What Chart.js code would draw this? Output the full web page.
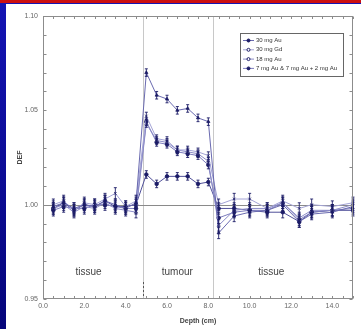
<!DOCTYPE html>
<html>
<head>
<meta charset="utf-8">
<script src="https://cdn.jsdelivr.net/npm/chart.js@4/dist/chart.umd.min.js"></script>
<style>
  html, body { margin: 0; padding: 0; background: #0a0a90; overflow: hidden; }
  canvas { display: block; }
</style>
</head>
<body>
<canvas id="defChart" width="361" height="329"></canvas>
<script>
// depth of each measurement (cm)
var depth = [0.5, 1.0, 1.5, 2.0, 2.5, 3.0, 3.5, 4.0, 4.5,
             5.0, 5.5, 6.0, 6.5, 7.0, 7.5, 8.0,
             8.5, 9.25, 10.0, 10.85, 11.6, 12.4, 13.0, 14.0, 15.0];

// DEF values
var au30 = [0.999, 1.001, 0.998, 1.000, 0.999, 1.002, 1.000, 0.998, 1.001,
            1.070, 1.058, 1.056, 1.050, 1.051, 1.046, 1.044,
            0.985, 0.994, 0.996, 0.997, 1.000, 0.991, 0.995, 0.996, 0.999];
var gd30 = [1.000, 1.002, 0.997, 1.001, 1.000, 1.003, 1.006, 0.999, 1.002,
            1.047, 1.035, 1.034, 1.029, 1.029, 1.028, 1.026,
            1.000, 1.003, 1.003, 0.998, 1.002, 0.998, 1.000, 0.999, 1.001];
var au18 = [0.998, 1.000, 0.996, 0.999, 0.998, 1.001, 0.998, 0.997, 0.996,
            1.043, 1.034, 1.033, 1.029, 1.028, 1.027, 1.023,
            0.989, 0.997, 0.998, 0.998, 1.001, 0.993, 0.997, 0.997, 1.000];
var au7p2 = [0.997, 0.999, 0.998, 0.998, 1.000, 1.000, 0.999, 0.998, 0.998,
             1.044, 1.033, 1.032, 1.028, 1.027, 1.026, 1.021,
             0.993, 0.996, 0.997, 0.997, 1.001, 0.992, 0.996, 0.997, 0.998];
var au7 = [0.998, 1.001, 0.997, 1.000, 0.999, 1.002, 0.999, 0.999, 1.000,
           1.016, 1.011, 1.015, 1.015, 1.015, 1.011, 1.012,
           0.998, 0.998, 0.997, 0.996, 0.996, 0.991, 0.996, 0.997, 0.997];
// error bar half-width, same for every series
var errDef = [0.003, 0.003, 0.003, 0.003, 0.003, 0.003, 0.003, 0.003, 0.003,
              0.002, 0.002, 0.002, 0.002, 0.002, 0.002, 0.002,
              0.003, 0.003, 0.003, 0.003, 0.003, 0.003, 0.003, 0.003, 0.003];

var legendNames = ['30 mg Au', '30 mg Gd', '18 mg Au', '7 mg Au & 7 mg Au + 2 mg Au'];
var xTicks = [0, 2, 4, 6, 8, 10, 12, 14];
var yTicks = [0.95, 1.00, 1.05, 1.10];
var boundaries = [4.83, 8.21];
var regionNames = ['tissue', 'tumour', 'tissue'];
var regionX = [2.2, 6.5, 11.05];
var regionY = 0.964;

var FONT = '"Liberation Sans", Arial, sans-serif';
var NAVY = '#1c1c66';

function pts(vals) {
  var out = [];
  for (var i = 0; i < depth.length; i++) out.push({ x: depth[i], y: vals[i] });
  return out;
}

var series = [
  { label: legendNames[0], data: pts(au30), borderColor: '#6a6ab0', pointStyle: 'triangle', fill: true },
  { label: legendNames[1], data: pts(gd30), borderColor: '#a4a4d6', pointStyle: 'crossRot', fill: false },
  { label: legendNames[2], data: pts(au18), borderColor: '#8c8cc8', pointStyle: 'triangle', fill: false },
  { label: legendNames[3], data: pts(au7p2), borderColor: '#7c7cbe', pointStyle: 'circle', fill: true },
  { label: legendNames[3], data: pts(au7), borderColor: '#50509a', pointStyle: 'circle', fill: true }
];

var datasets = series.map(function (s) {
  return {
    label: s.label,
    data: s.data,
    showLine: true,
    borderColor: s.borderColor,
    borderWidth: 1,
    pointStyle: s.pointStyle,
    pointRadius: 1.8,
    pointBorderColor: NAVY,
    pointBackgroundColor: s.fill ? NAVY : '#ffffff',
    pointBorderWidth: 0.8
  };
});

var decor = {
  id: 'decor',
  beforeDraw: function (chart) {
    var c = chart.ctx;
    var g = c.createLinearGradient(0, 0, 0, 329);
    g.addColorStop(0, '#1414b4');
    g.addColorStop(1, '#05057a');
    c.save();
    c.fillStyle = g;
    c.fillRect(0, 0, 361, 329);
    c.fillStyle = '#cc1010';
    c.fillRect(0, 0, 361, 3);
    c.fillStyle = '#ffffff';
    c.fillRect(6, 4, 355, 325);
    c.restore();
  },
  beforeDatasetsDraw: function (chart) {
    var c = chart.ctx, a = chart.chartArea;
    var xs = chart.scales.x, ys = chart.scales.y;
    c.save();
    // region boundaries
    c.strokeStyle = '#c8c8c8';
    c.lineWidth = 1;
    boundaries.forEach(function (b) {
      var px = Math.round(xs.getPixelForValue(b)) + 0.5;
      c.beginPath(); c.moveTo(px, a.top); c.lineTo(px, a.bottom); c.stroke();
    });
    var bx = Math.round(xs.getPixelForValue(boundaries[0])) + 0.5;
    c.strokeStyle = '#555';
    c.setLineDash([2, 2]);
    c.beginPath(); c.moveTo(bx, ys.getPixelForValue(0.959)); c.lineTo(bx, a.bottom); c.stroke();
    c.setLineDash([]);
    // reference line at 1.00
    var py = Math.round(ys.getPixelForValue(1.0)) + 0.5;
    c.strokeStyle = '#8a8a8a';
    c.beginPath(); c.moveTo(a.left, py); c.lineTo(a.right, py); c.stroke();
    // region labels
    c.fillStyle = '#444';
    c.font = '10px ' + FONT;
    c.textAlign = 'center';
    c.textBaseline = 'middle';
    regionNames.forEach(function (n, i) {
      c.fillText(n, xs.getPixelForValue(regionX[i]), ys.getPixelForValue(regionY));
    });
    c.restore();
  },
  afterDatasetsDraw: function (chart) {
    var c = chart.ctx, a = chart.chartArea;
    var xs = chart.scales.x, ys = chart.scales.y;
    c.save();
    // error bars
    c.strokeStyle = NAVY;
    c.lineWidth = 0.9;
    chart.data.datasets.forEach(function (ds) {
      ds.data.forEach(function (p, i) {
        var px = xs.getPixelForValue(p.x);
        var y1 = ys.getPixelForValue(p.y - errDef[i]);
        var y2 = ys.getPixelForValue(p.y + errDef[i]);
        c.beginPath();
        c.moveTo(px, y1); c.lineTo(px, y2);
        c.moveTo(px - 1.5, y1); c.lineTo(px + 1.5, y1);
        c.moveTo(px - 1.5, y2); c.lineTo(px + 1.5, y2);
        c.stroke();
      });
    });
    // frame
    c.strokeStyle = '#8c8c8c';
    c.lineWidth = 1;
    var L = Math.round(a.left) + 0.5, R = Math.round(a.right) - 0.5;
    var T = Math.round(a.top) + 0.5, B = Math.round(a.bottom) - 0.5;
    c.strokeRect(L, T, R - L, B - T);
    // inward ticks
    c.beginPath();
    for (var v = 0.95; v <= 1.1001; v += 0.01) {
      var ty = Math.round(ys.getPixelForValue(v)) + 0.5;
      c.moveTo(L, ty); c.lineTo(L + 3, ty);
      c.moveTo(R, ty); c.lineTo(R - 3, ty);
    }
    for (var u = 0; u <= 15.001; u += 0.5) {
      var tx = Math.round(xs.getPixelForValue(u)) + 0.5;
      c.moveTo(tx, B); c.lineTo(tx, B - 2.5);
      c.moveTo(tx, T); c.lineTo(tx, T + 2.5);
    }
    c.stroke();
    // legend
    var lx = 240, ly = 33, lw = 103, lh = 43;
    c.fillStyle = '#fff';
    c.fillRect(lx, ly, lw, lh);
    c.strokeStyle = '#666';
    c.strokeRect(lx + 0.5, ly + 0.5, lw, lh);
    c.font = '6px ' + FONT;
    c.textAlign = 'left';
    c.textBaseline = 'middle';
    for (var k = 0; k < legendNames.length; k++) {
      var ds = chart.data.datasets[k];
      var ry = ly + 7.5 + k * 9.3;
      c.strokeStyle = ds.borderColor;
      c.beginPath(); c.moveTo(lx + 3, ry); c.lineTo(lx + 14, ry); c.stroke();
      c.fillStyle = ds.pointBackgroundColor;
      c.strokeStyle = NAVY;
      c.beginPath(); c.arc(lx + 8.5, ry, 1.5, 0, Math.PI * 2); c.fill(); c.stroke();
      c.fillStyle = '#333';
      c.fillText(legendNames[k], lx + 16, ry);
    }
    c.restore();
  }
};

var ctx = document.getElementById('defChart').getContext('2d');
var defChart = new Chart(ctx, {
  type: 'scatter',
  data: { datasets: datasets },
  options: {
    responsive: false,
    animation: false,
    devicePixelRatio: 1,
    layout: { padding: { left: 6, top: 16, right: 8, bottom: 2 } },
    plugins: { legend: { display: false }, tooltip: { enabled: false } },
    scales: {
      x: {
        type: 'linear', min: 0, max: 15,
        grid: { display: false, drawTicks: false }, border: { display: false },
        afterBuildTicks: function (s) { s.ticks = xTicks.map(function (v) { return { value: v }; }); },
        afterFit: function (s) { s.height = 28; },
        ticks: { padding: 3, color: '#666', font: { size: 7, family: FONT },
                 callback: function (v) { return Number(v).toFixed(1); } },
        title: { display: true, text: 'Depth (cm)', color: '#444',
                 font: { size: 7, weight: 'bold', family: FONT }, padding: { top: 2, bottom: 2 } }
      },
      y: {
        type: 'linear', min: 0.95, max: 1.10,
        grid: { display: false, drawTicks: false }, border: { display: false },
        afterBuildTicks: function (s) { s.ticks = yTicks.map(function (v) { return { value: v }; }); },
        afterFit: function (s) { s.width = 37; },
        ticks: { padding: 5, color: '#666', font: { size: 7, family: FONT },
                 callback: function (v) { return Number(v).toFixed(2); } },
        title: { display: true, text: 'DEF', color: '#444',
                 font: { size: 7, weight: 'bold', family: FONT }, padding: { top: 10, bottom: 2 } }
      }
    }
  },
  plugins: [decor]
});
</script>
</body>
</html>
